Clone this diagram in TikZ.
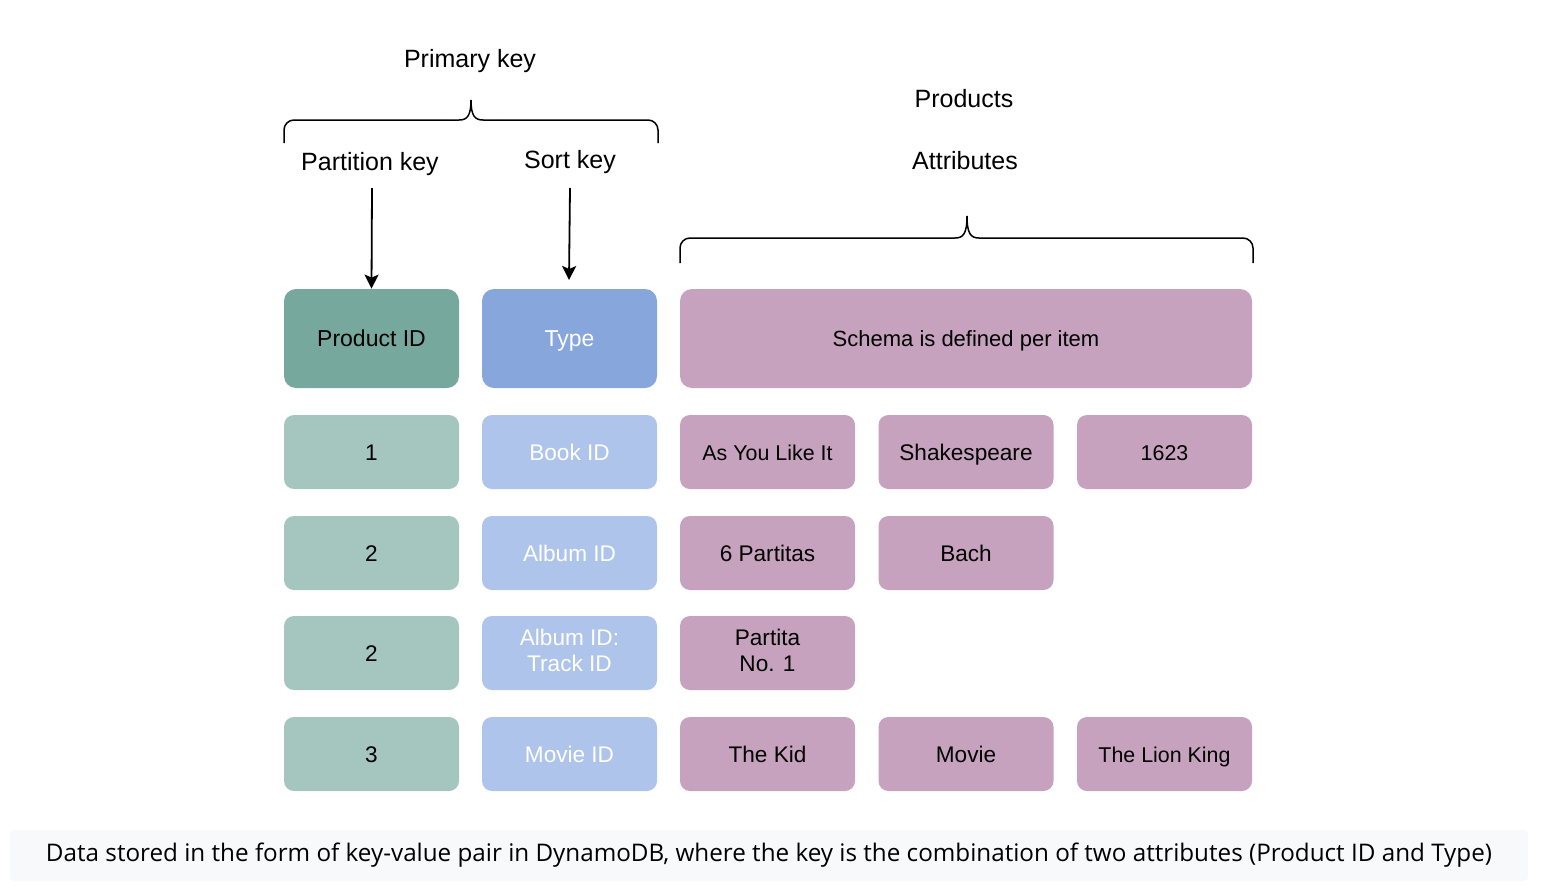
\documentclass[tikz,border=0pt]{standalone}
\usepackage{fontspec}
\setmainfont{Liberation Sans}
\newfontfamily\capfont{Open Sans}
\usetikzlibrary{arrows.meta}
\definecolor{pidc}{HTML}{76A89E}
\definecolor{typc}{HTML}{87A6DB}
\definecolor{attc}{HTML}{C6A2BE}
\definecolor{pidl}{HTML}{A4C6BE}
\definecolor{typl}{HTML}{AFC4EA}
\definecolor{capbg}{HTML}{F8F9FA}
\newcommand\cellstrut{\rule[-2.3pt]{0pt}{12.8pt}}
\tikzset{
  hdrbox/.style={rounded corners=6pt, minimum height=49.5pt, inner sep=0pt, font=\fontsize{11.5}{13}\selectfont, align=center,
    execute at begin node=\cellstrut, execute at end node=\cellstrut},
  cellbox/.style={rounded corners=5pt, minimum width=87.5pt, minimum height=37pt, inner sep=0pt, font=\fontsize{11.3}{13}\selectfont, align=center,
    execute at begin node=\cellstrut, execute at end node=\cellstrut},
  lbl/.style={font=\fontsize{12.5}{14}\selectfont, inner sep=0pt},
  brace/.style={line width=0.75pt, black},
  arr/.style={line width=0.9pt, -{Stealth[length=7pt,width=7pt,inset=1.5pt]}}
}
\begin{document}
\begin{tikzpicture}[x=0.5pt,y=-0.5pt]
\useasboundingbox (0,0) rectangle (1568,894);
% labels
\node[lbl] (prim) at (470,61) {Primary key};
\node[lbl] (part) at (370,164) {Partition key};
\node[lbl] (sort) at (570,162) {Sort key};
\node[lbl] (prod) at (964,99) {Products};
\node[lbl] (attr) at (965,161) {Attributes};
% braces
\draw[brace, rounded corners=5pt] (284,143) -- (284,120) -- (440,120);
\draw[brace] (440,120) -- (459,120) .. controls (467,120) and (471,116) .. (471,100);
\draw[brace, rounded corners=5pt] (658,143) -- (658,120) -- (500,120);
\draw[brace] (500,120) -- (483,120) .. controls (475,120) and (471,116) .. (471,100);
\draw[brace, rounded corners=5pt] (680,263) -- (680,238) -- (900,238);
\draw[brace] (900,238) -- (955,238) .. controls (963,238) and (967,234) .. (967,216);
\draw[brace, rounded corners=5pt] (1253,263) -- (1253,238) -- (1030,238);
\draw[brace] (1030,238) -- (979,238) .. controls (971,238) and (967,234) .. (967,216);
% header row
\node[hdrbox, fill=pidc, minimum width=87.5pt] (pid) at (371.5,338.5) {Product ID};
\node[hdrbox, fill=typc, minimum width=87.5pt, text=white] (typ) at (569.5,338.5) {Type};
\node[hdrbox, fill=attc, minimum width=286pt, font=\fontsize{11}{13}\selectfont] (sch) at (966,338.5) {Schema is defined per item};
% arrows
\coordinate (a1s) at (372,188);
\coordinate (a2s) at (570,188);
\coordinate (a2e) at (569,280);
\draw[arr] (a1s) -- (pid.north);
\draw[arr] (a2s) -- (a2e);
% row 1
\node[cellbox, fill=pidl] (r1a) at (371.5,452) {1};
\node[cellbox, fill=typl, text=white] (r1b) at (569.5,452) {Book ID};
\node[cellbox, fill=attc, font=\fontsize{10.7}{13}\selectfont] (r1c) at (767.5,452) {As You Like It};
\node[cellbox, fill=attc] (r1d) at (966,452) {Shakespeare};
\node[cellbox, fill=attc, font=\fontsize{10.7}{13}\selectfont] (r1e) at (1164.5,452) {1623};
% row 2
\node[cellbox, fill=pidl] (r2a) at (371.5,553) {2};
\node[cellbox, fill=typl, text=white] (r2b) at (569.5,553) {Album ID};
\node[cellbox, fill=attc] (r2c) at (767.5,553) {6 Partitas};
\node[cellbox, fill=attc] (r2d) at (966,553) {Bach};
% row 3
\node[cellbox, fill=pidl] (r3a) at (371.5,653) {2};
\node[cellbox, fill=typl, text=white] (r3b) at (569.5,653) {Album ID:\\Track ID};
\node[cellbox, fill=attc] (r3c) at (767.5,653) {Partita\\No. 1};
% row 4
\node[cellbox, fill=pidl] (r4a) at (371.5,754) {3};
\node[cellbox, fill=typl, text=white] (r4b) at (569.5,754) {Movie ID};
\node[cellbox, fill=attc] (r4c) at (767.5,754) {The Kid};
\node[cellbox, fill=attc] (r4d) at (966,754) {Movie};
\node[cellbox, fill=attc, font=\fontsize{10.7}{13}\selectfont] (r4e) at (1164.5,754) {The Lion King};
% caption
\fill[capbg, rounded corners=2pt] (10,830) rectangle (1528,881);
\node[inner sep=0pt] (cap) at (769,855) {\resizebox{723pt}{!}{\capfont\fontsize{11}{13}\selectfont Data stored in the form of key-value pair in DynamoDB, where the key is the combination of two attributes (Product ID and Type)}};
\end{tikzpicture}
\end{document}
